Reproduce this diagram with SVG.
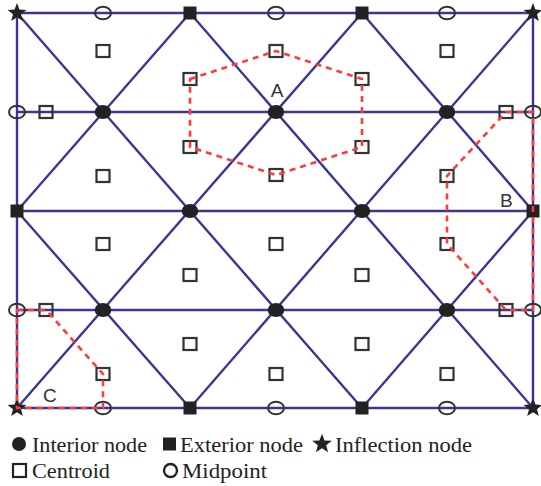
<svg xmlns="http://www.w3.org/2000/svg" xmlns:xlink="http://www.w3.org/1999/xlink" width="541" height="486" viewBox="0 0 541 486">
<style>
.ln{stroke:#3b3596;stroke-width:2.4;fill:none}
.rd{stroke:#ff3b3b;stroke-width:2.6;stroke-dasharray:6 5;fill:none}
.int{fill:#222}
.ext{fill:#222}
.inf{fill:#222}
.mid{fill:none;stroke:#333;stroke-width:2}
.cen{fill:none;stroke:#333;stroke-width:2.2}
.lbl{font-family:"Liberation Sans",Arial,sans-serif;font-size:19px;fill:#333}
.leg{font-family:"Liberation Serif","Times New Roman",serif;font-size:21px;fill:#222}
</style>
<defs>
<ellipse id="mInt" class="int" cx="0" cy="0" rx="8.3" ry="7"/>
<rect id="mExt" class="ext" x="-6.5" y="-6.5" width="13" height="13"/>
<polygon id="mInf" class="inf" transform="scale(1.1)" points="0,-9 2.23,-3.07 8.56,-2.78 3.61,1.17 5.29,7.28 0,3.8 -5.29,7.28 -3.61,1.17 -8.56,-2.78 -2.23,-3.07"/>
<ellipse id="mMid" class="mid" cx="0" cy="0" rx="8" ry="6.3"/>
<rect id="mCen" class="cen" x="-6.5" y="-6" width="13" height="12"/>
</defs>
<rect width="541" height="486" fill="#fff"/>
<g id="connectors">
<g id="grid-lines">
<line class="ln" x1="17" y1="13" x2="533" y2="13"/>
<line class="ln" x1="17" y1="112" x2="533" y2="112"/>
<line class="ln" x1="17" y1="211" x2="533" y2="211"/>
<line class="ln" x1="17" y1="310" x2="533" y2="310"/>
<line class="ln" x1="17" y1="408" x2="533" y2="408"/>
<line class="ln" x1="17" y1="13" x2="17" y2="408"/>
<line class="ln" x1="533" y1="13" x2="533" y2="408"/>
<line class="ln" x1="17" y1="13" x2="362" y2="408"/>
<line class="ln" x1="190" y1="13" x2="533" y2="408"/>
<line class="ln" x1="362" y1="13" x2="533" y2="211"/>
<line class="ln" x1="17" y1="211" x2="190" y2="408"/>
<line class="ln" x1="190" y1="13" x2="17" y2="211"/>
<line class="ln" x1="362" y1="13" x2="17" y2="408"/>
<line class="ln" x1="533" y1="13" x2="190" y2="408"/>
<line class="ln" x1="533" y1="211" x2="362" y2="408"/>
</g>
</g>
<g id="nodes">
<g id="inf1"><use xlink:href="#mInf" x="17" y="13"/></g>
<g id="inf2"><use xlink:href="#mInf" x="533" y="13"/></g>
<g id="inf3"><use xlink:href="#mInf" x="17" y="408"/></g>
<g id="inf4"><use xlink:href="#mInf" x="533" y="408"/></g>
<g id="ext1"><use xlink:href="#mExt" x="190" y="13"/></g>
<g id="ext2"><use xlink:href="#mExt" x="362" y="13"/></g>
<g id="ext3"><use xlink:href="#mExt" x="17" y="211"/></g>
<g id="ext4"><use xlink:href="#mExt" x="533" y="211"/></g>
<g id="ext5"><use xlink:href="#mExt" x="190" y="408"/></g>
<g id="ext6"><use xlink:href="#mExt" x="362" y="408"/></g>
<g id="int1"><use xlink:href="#mInt" x="103" y="112"/></g>
<g id="int2"><use xlink:href="#mInt" x="276" y="112"/></g>
<g id="int3"><use xlink:href="#mInt" x="447" y="112"/></g>
<g id="int4"><use xlink:href="#mInt" x="190" y="211"/></g>
<g id="int5"><use xlink:href="#mInt" x="362" y="211"/></g>
<g id="int6"><use xlink:href="#mInt" x="103" y="310"/></g>
<g id="int7"><use xlink:href="#mInt" x="276" y="310"/></g>
<g id="int8"><use xlink:href="#mInt" x="447" y="310"/></g>
<g id="mid1"><use xlink:href="#mMid" x="103" y="13"/></g>
<g id="mid2"><use xlink:href="#mMid" x="276" y="13"/></g>
<g id="mid3"><use xlink:href="#mMid" x="447" y="13"/></g>
<g id="mid4"><use xlink:href="#mMid" x="17" y="112"/></g>
<g id="mid5"><use xlink:href="#mMid" x="533" y="112"/></g>
<g id="mid6"><use xlink:href="#mMid" x="17" y="310"/></g>
<g id="mid7"><use xlink:href="#mMid" x="533" y="310"/></g>
<g id="mid8"><use xlink:href="#mMid" x="103" y="408"/></g>
<g id="mid9"><use xlink:href="#mMid" x="276" y="408"/></g>
<g id="mid10"><use xlink:href="#mMid" x="447" y="408"/></g>
<g id="cen1"><use xlink:href="#mCen" x="103" y="51"/></g>
<g id="cen2"><use xlink:href="#mCen" x="190" y="79"/></g>
<g id="cen3"><use xlink:href="#mCen" x="276" y="51"/></g>
<g id="cen4"><use xlink:href="#mCen" x="362" y="79"/></g>
<g id="cen5"><use xlink:href="#mCen" x="447" y="51"/></g>
<g id="cen6"><use xlink:href="#mCen" x="46" y="112"/></g>
<g id="cen7"><use xlink:href="#mCen" x="506" y="112"/></g>
<g id="cen8"><use xlink:href="#mCen" x="103" y="176"/></g>
<g id="cen9"><use xlink:href="#mCen" x="190" y="147"/></g>
<g id="cen10"><use xlink:href="#mCen" x="276" y="175"/></g>
<g id="cen11"><use xlink:href="#mCen" x="362" y="147"/></g>
<g id="cen12"><use xlink:href="#mCen" x="447" y="176"/></g>
<g id="cen13"><use xlink:href="#mCen" x="103" y="244"/></g>
<g id="cen14"><use xlink:href="#mCen" x="190" y="275"/></g>
<g id="cen15"><use xlink:href="#mCen" x="276" y="244"/></g>
<g id="cen16"><use xlink:href="#mCen" x="362" y="275"/></g>
<g id="cen17"><use xlink:href="#mCen" x="447" y="244"/></g>
<g id="cen18"><use xlink:href="#mCen" x="46" y="310"/></g>
<g id="cen19"><use xlink:href="#mCen" x="506" y="310"/></g>
<g id="cen20"><use xlink:href="#mCen" x="190" y="344"/></g>
<g id="cen21"><use xlink:href="#mCen" x="276" y="374"/></g>
<g id="cen22"><use xlink:href="#mCen" x="362" y="344"/></g>
<g id="cen23"><use xlink:href="#mCen" x="103" y="374"/></g>
<g id="cen24"><use xlink:href="#mCen" x="447" y="374"/></g>
</g>
<g id="dashed-paths">
<polygon id="pathA" class="rd" points="190,79 276,51 362,79 362,147 276,175 190,147"/>
<polygon id="pathB" class="rd" points="506,112 533,112 533,310 506,310 447,244 447,176"/>
<polygon id="pathC" class="rd" points="17,310 46,310 103,374 103,408 17,408"/>
</g>
<g id="labels">
<text class="lbl" x="277" y="97" text-anchor="middle">A</text>
<text class="lbl" x="500" y="207">B</text>
<text class="lbl" x="43" y="402">C</text>
</g>
<g id="legend">
<circle cx="19" cy="444" r="7" fill="#222"/>
<text class="leg" x="32" y="452" textLength="115" lengthAdjust="spacingAndGlyphs">Interior node</text>
<rect x="163" y="437.5" width="13" height="13" fill="#222"/>
<text class="leg" x="180" y="452" textLength="123" lengthAdjust="spacingAndGlyphs">Exterior node</text>
<polygon fill="#222" transform="translate(322,444) scale(1.15)" points="0,-9 2.23,-3.07 8.56,-2.78 3.61,1.17 5.29,7.28 0,3.8 -5.29,7.28 -3.61,1.17 -8.56,-2.78 -2.23,-3.07"/>
<text class="leg" x="335" y="452" textLength="137" lengthAdjust="spacingAndGlyphs">Inflection node</text>
<rect x="13" y="464" width="13" height="13" fill="none" stroke="#222" stroke-width="2.2"/>
<text class="leg" x="32" y="478" textLength="78" lengthAdjust="spacingAndGlyphs">Centroid</text>
<circle cx="170.5" cy="470.5" r="6.5" fill="none" stroke="#222" stroke-width="2.4"/>
<text class="leg" x="182" y="478" textLength="85" lengthAdjust="spacingAndGlyphs">Midpoint</text>
</g>
</svg>
